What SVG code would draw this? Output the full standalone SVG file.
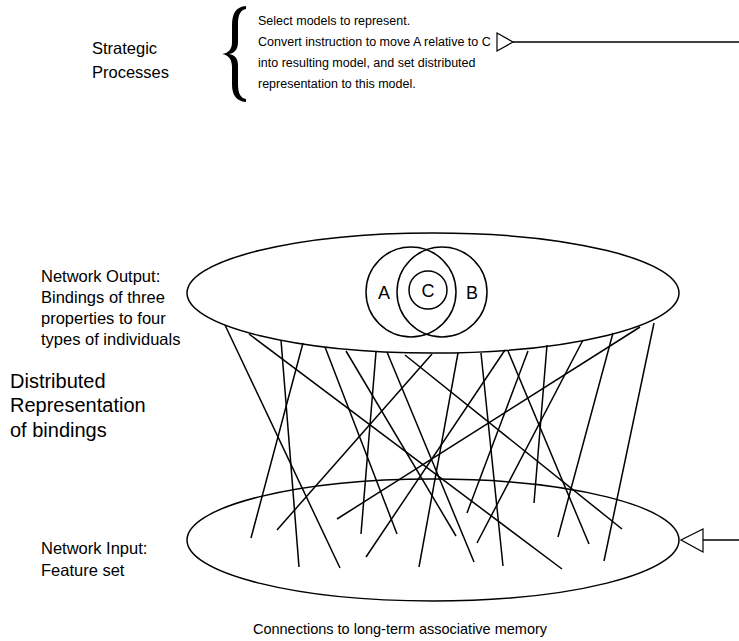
<svg xmlns="http://www.w3.org/2000/svg" width="739" height="641" viewBox="0 0 739 641">
<style>
  text { font-family: "Liberation Sans", Arial, sans-serif; fill: #000; }
  .top { font-size: 12.5px; }
  .lbl { font-size: 16.5px; }
  .cap { font-size: 14.5px; }
  .mid { font-size: 16.5px; }
  .big { font-size: 20px; }
  .circ { font-size: 18px; text-anchor: middle; }
  .shape { fill: none; stroke: #000; stroke-width: 1.5; }
  .conn line { stroke: #000; stroke-width: 1.5; }
  .arrow { fill: #fff; stroke: #000; stroke-width: 1.2; }
</style>
<rect width="739" height="641" fill="#fff"/>

<g id="strategic">
  <text class="mid" x="92" y="54">Strategic</text>
  <text class="mid" x="92" y="78">Processes</text>
  <path d="M246 6 C236 7 232 13 232 26 L232 42 C232 49 229 53 222 54 C229 55 232 60 232 67 L232 84 C232 95 236 101 246 102 L246 99 C241 98 238 94 238 84 L238 66 C238 58 235 55 229 54 C235 53 238 49 238 42 L238 24 C238 14 241 10 246 9 Z" fill="#000"/>
  <text class="top" x="258" y="25">Select models to represent.</text>
  <text class="top" x="258" y="46">Convert instruction to move A relative to C</text>
  <text class="top" x="258" y="67">into resulting model, and set distributed</text>
  <text class="top" x="258" y="88">representation to this model.</text>
</g>

<g id="output-layer">
  <ellipse class="shape" cx="433" cy="293" rx="246" ry="60"/>
  <circle class="shape" cx="411" cy="292" r="45"/>
  <circle class="shape" cx="442" cy="292" r="45"/>
  <circle class="shape" cx="428" cy="290" r="19"/>
  <text class="circ" x="384" y="299">A</text>
  <text class="circ" x="428" y="297">C</text>
  <text class="circ" x="472" y="299">B</text>
</g>

<g id="input-layer">
  <ellipse class="shape" cx="433" cy="540" rx="246" ry="61"/>
</g>

<g id="labels">
  <text class="lbl" x="41" y="282">Network Output:</text>
  <text class="lbl" x="41" y="303">Bindings of three</text>
  <text class="lbl" x="41" y="324">properties to four</text>
  <text class="lbl" x="41" y="345">types of individuals</text>
  <text class="big" x="10" y="388">Distributed</text>
  <text class="big" x="10" y="412">Representation</text>
  <text class="big" x="10" y="437">of bindings</text>
  <text class="lbl" x="41" y="554">Network Input:</text>
  <text class="lbl" x="41" y="576">Feature set</text>
  <text class="cap" x="400" y="634" text-anchor="middle">Connections to long-term associative memory</text>
</g>

<g id="connectors" class="conn">
  <line x1="225" y1="325" x2="340" y2="568"/>
  <line x1="249" y1="334" x2="562" y2="569"/>
  <line x1="281" y1="340" x2="299" y2="567"/>
  <line x1="303" y1="343" x2="251" y2="538"/>
  <line x1="325" y1="347" x2="397" y2="534"/>
  <line x1="346" y1="351" x2="456" y2="536"/>
  <line x1="376" y1="352" x2="361" y2="534"/>
  <line x1="387" y1="352" x2="474" y2="562"/>
  <line x1="405" y1="355" x2="622" y2="529"/>
  <line x1="432" y1="354" x2="277" y2="530"/>
  <line x1="458" y1="353" x2="419" y2="567"/>
  <line x1="481" y1="353" x2="503" y2="566"/>
  <line x1="505" y1="350" x2="366" y2="557"/>
  <line x1="508" y1="351" x2="589" y2="544"/>
  <line x1="528" y1="351" x2="467" y2="513"/>
  <line x1="547" y1="345" x2="534" y2="503"/>
  <line x1="583" y1="340" x2="477" y2="543"/>
  <line x1="613" y1="333" x2="558" y2="537"/>
  <line x1="640" y1="327" x2="337" y2="519"/>
  <line x1="654" y1="323" x2="604" y2="561"/>
  <line x1="513" y1="42" x2="739" y2="42"/>
  <line x1="703" y1="540" x2="739" y2="540"/>
</g>

<g id="arrowheads">
  <polygon class="arrow" points="497,33 497,51 513,42"/>
  <polygon class="arrow" points="703,529 703,552 681,540"/>
</g>
</svg>
